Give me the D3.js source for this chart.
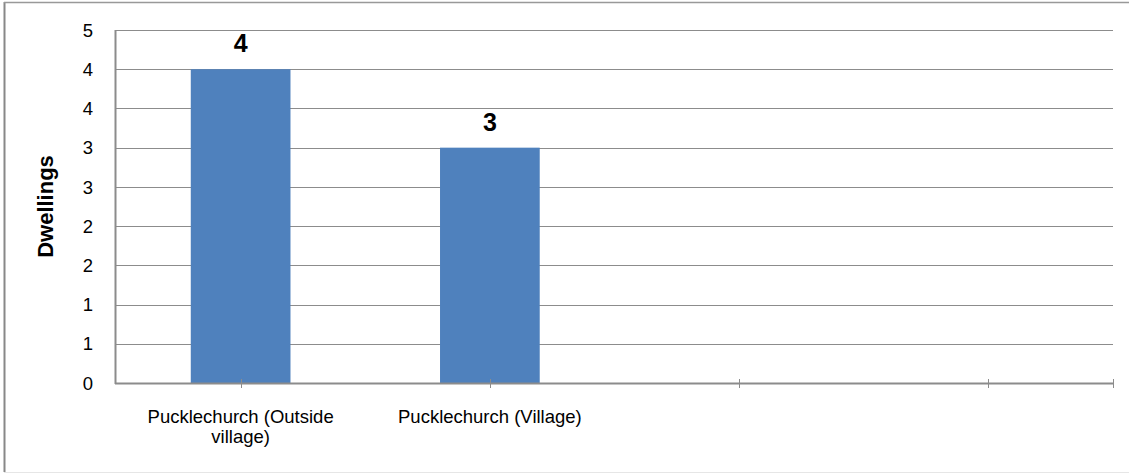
<!DOCTYPE html>
<html>
<head>
<meta charset="utf-8">
<script src="https://cdn.jsdelivr.net/npm/d3@7"></script>
<style>
  body { margin: 0; background: #fff; }
  svg { display: block; font-family: "Liberation Sans", Arial, sans-serif; }
</style>
</head>
<body>
<svg id="svg" width="1129" height="474"></svg>
<script>
var categories = [["Pucklechurch (Outside", "village)"], ["Pucklechurch (Village)"], [""], [""]];
var values = [4, 3, null, null];
var yTicks = [0, 0.5, 1, 1.5, 2, 2.5, 3, 3.5, 4, 4.5];

var svg = d3.select("svg");
var plotLeft = 116, plotRight = 1113, plotTop = 30, plotBottom = 383;

// outer frame
svg.append("line").attr("x1", 4.5).attr("x2", 4.5).attr("y1", 2).attr("y2", 472)
   .attr("stroke", "#888").attr("stroke-width", 2);
svg.append("line").attr("x1", 4).attr("x2", 1129).attr("y1", 2.5).attr("y2", 2.5)
   .attr("stroke", "#999").attr("stroke-width", 1.5);
svg.append("line").attr("x1", 4).attr("x2", 1129).attr("y1", 472.5).attr("y2", 472.5)
   .attr("stroke", "#e6e6e6").attr("stroke-width", 1);

var x = d3.scaleBand()
    .domain(d3.range(categories.length))
    .range([plotLeft, plotRight]);

var y = d3.scaleLinear().domain([0, 4.5]).range([plotBottom, plotTop]);

// gridlines
svg.selectAll(".grid").data(yTicks.slice(1)).enter().append("line")
   .attr("x1", plotLeft).attr("x2", plotRight)
   .attr("y1", function(d) { return Math.round(y(d)) + 0.5; })
   .attr("y2", function(d) { return Math.round(y(d)) + 0.5; })
   .attr("stroke", "#8c8c8c").attr("stroke-width", 1);

// y labels (Excel style rounding of half steps)
svg.selectAll(".ylab").data(yTicks).enter().append("text")
   .attr("x", 93).attr("y", function(d) { return y(d); })
   .attr("dy", "0.36em").attr("text-anchor", "end")
   .attr("font-size", 18.5).attr("fill", "#000")
   .text(function(d) { return Math.round(d + 0.0001); });

// bars
var cw = x.bandwidth();
var barW = cw / 2.5;
svg.selectAll(".bar").data(values.map(function(v, i) { return {v: v, i: i}; })
      .filter(function(d) { return d.v != null; }))
   .enter().append("rect")
   .attr("x", function(d) { return x(d.i) + cw / 2 - barW / 2; })
   .attr("y", function(d) { return y(d.v); })
   .attr("width", barW)
   .attr("height", function(d) { return plotBottom - y(d.v); })
   .attr("fill", "#4F81BD");

// value labels
values.forEach(function(d, i) {
  if (d == null) return;
  svg.append("text")
     .attr("x", x(i) + cw / 2).attr("y", y(d) - 17)
     .attr("text-anchor", "middle").attr("font-size", 25).attr("font-weight", "bold")
     .text(d);
});

// axes lines
svg.append("line").attr("x1", plotLeft - 0.5).attr("x2", plotLeft - 0.5).attr("y1", plotTop).attr("y2", plotBottom + 1)
   .attr("stroke", "#8c8c8c").attr("stroke-width", 2);
svg.append("line").attr("x1", plotLeft - 1).attr("x2", plotRight + 1).attr("y1", plotBottom + 0.5).attr("y2", plotBottom + 0.5)
   .attr("stroke", "#8c8c8c").attr("stroke-width", 2);

// x ticks at category centers and right end
var tickX = categories.map(function(c, i) { return x(i) + cw / 2; }).concat([plotRight]);
svg.selectAll(".xt").data(tickX).enter().append("line")
   .attr("x1", function(d) { return Math.round(d) + 0.5; })
   .attr("x2", function(d) { return Math.round(d) + 0.5; })
   .attr("y1", plotBottom - 4).attr("y2", plotBottom + 5)
   .attr("stroke", "#8c8c8c").attr("stroke-width", 1);

// x labels
categories.forEach(function(lines, i) {
  var cx = x(i) + cw / 2;
  var t = svg.append("text")
     .attr("x", cx).attr("y", 423)
     .attr("text-anchor", "middle").attr("font-size", 18.5).attr("fill", "#000");
  lines.forEach(function(l, j) {
    t.append("tspan").attr("x", cx).attr("dy", j === 0 ? 0 : 20).text(l);
  });
});

// y title
svg.append("text")
   .attr("transform", "translate(53," + (plotTop + plotBottom) / 2 + ") rotate(-90)")
   .attr("text-anchor", "middle").attr("font-size", 22).attr("font-weight", "bold")
   .text("Dwellings");
</script>
</body>
</html>
